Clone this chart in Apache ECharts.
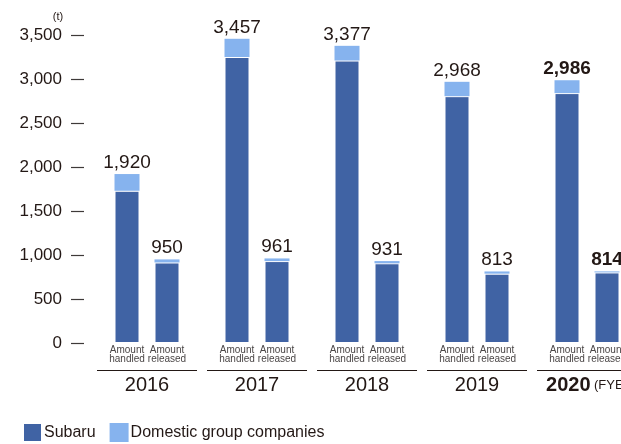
<!DOCTYPE html>
<html>
<head>
<meta charset="utf-8">
<script src="https://cdn.jsdelivr.net/npm/echarts@6/dist/echarts.min.js"></script>
<style>
  html, body { margin: 0; padding: 0; background: #fff; }
  #chart { width: 621px; height: 444px; }
</style>
</head>
<body>
<div id="chart"></div>
<script>
// data
var years = ["2016", "2017", "2018", "2019", "2020"];
var subLabels = ["Amount\nhandled", "Amount\nreleased"];
var handledSubaru = [1730, 3250, 3210, 2805, 2840];
var handledDomestic = [190, 207, 167, 163, 146];
var handledTotal = [1920, 3457, 3377, 2968, 2986];
var releasedSubaru = [915, 931, 906, 788, 802];
var releasedDomestic = [35, 30, 25, 25, 12];
var releasedTotal = [950, 961, 931, 813, 814];

var darkBlue = "#4063a4";
var lightBlue = "#86b3ee";
var textColor = "#231815";
var font = "Liberation Sans";

window.onload = function () {
  var chart = echarts.init(document.getElementById("chart"));

  function fmt(n) {
    return n.toLocaleString("en-US");
  }

  // bottom part of a stack, with the small label under the bar
  function baseSeries(values, stack, sub) {
    return {
      name: "Subaru",
      type: "bar",
      stack: stack,
      barWidth: 25,
      barGap: "60%",
      itemStyle: { color: darkBlue, borderColor: "#fff", borderWidth: 1 },
      label: {
        show: true,
        position: "bottom",
        distance: 3,
        formatter: sub,
        fontFamily: font,
        fontSize: 10,
        lineHeight: 9,
        color: "#4a4646",
      },
      data: values,
    };
  }

  // top part of a stack, with the total above it
  function topSeries(values, totals, stack) {
    return {
      name: "Domestic group companies",
      type: "bar",
      stack: stack,
      barWidth: 25,
      barGap: "60%",
      itemStyle: { color: lightBlue },
      label: {
        show: true,
        position: "top",
        distance: 2,
        fontFamily: font,
        fontSize: 19,
        color: textColor,
        formatter: function (p) {
          return fmt(totals[p.dataIndex]);
        },
      },
      data: values.map(function (v, i) {
        return {
          value: v,
          label: { fontWeight: i === years.length - 1 ? "bold" : "normal" },
        };
      }),
    };
  }

  var option = {
    animation: false,
    grid: {
      left: 92,
      width: 550,
      top: 35,
      height: 308,
      containLabel: false,
      outerBoundsMode: "none",
    },
    legend: {
      left: 17,
      top: 417,
      itemWidth: 19,
      itemHeight: 19,
      itemGap: 14,
      icon: "rect",
      textStyle: {
        fontFamily: font,
        fontSize: 16,
        color: textColor,
        padding: [0, 0, 0, -3],
      },
      data: ["Subaru", "Domestic group companies"],
    },
    xAxis: {
      type: "category",
      data: years,
      axisLine: { show: false },
      axisTick: { show: false },
      axisLabel: {
        margin: 27,
        interval: 0,
        formatter: function (v) {
          if (v === years[years.length - 1]) {
            return "{l|}\n{b|" + v + "} {s|(FYE)}";
          }
          return "{l|}\n{y|" + v + "}";
        },
        rich: {
          l: { width: 100, height: 1, lineHeight: 1, backgroundColor: textColor },
          y: { fontFamily: font, fontSize: 20, lineHeight: 28, color: textColor },
          b: {
            fontFamily: font,
            fontSize: 20,
            fontWeight: "bold",
            lineHeight: 28,
            color: textColor,
          },
          s: { fontFamily: font, fontSize: 13, lineHeight: 28, color: textColor },
        },
      },
    },
    yAxis: {
      type: "value",
      min: 0,
      max: 3500,
      interval: 500,
      offset: 8,
      name: "(t)",
      nameLocation: "end",
      nameGap: 13,
      nameTextStyle: {
        fontFamily: font,
        fontSize: 11,
        color: textColor,
        align: "center",
        padding: [0, 52, 0, 0],
      },
      axisLine: { show: false },
      axisTick: {
        show: true,
        length: 13,
        lineStyle: { color: "#3e3a39", width: 1.2 },
      },
      splitLine: { show: false },
      axisLabel: {
        margin: 22,
        fontFamily: font,
        fontSize: 17,
        color: textColor,
        formatter: function (v) {
          return fmt(v);
        },
      },
    },
    series: [
      baseSeries(handledSubaru, "handled", subLabels[0]),
      topSeries(handledDomestic, handledTotal, "handled"),
      baseSeries(releasedSubaru, "released", subLabels[1]),
      topSeries(releasedDomestic, releasedTotal, "released"),
    ],
  };

  chart.setOption(option);
  window.onresize = function () {
    chart.resize();
  };
};
</script>
</body>
</html>
